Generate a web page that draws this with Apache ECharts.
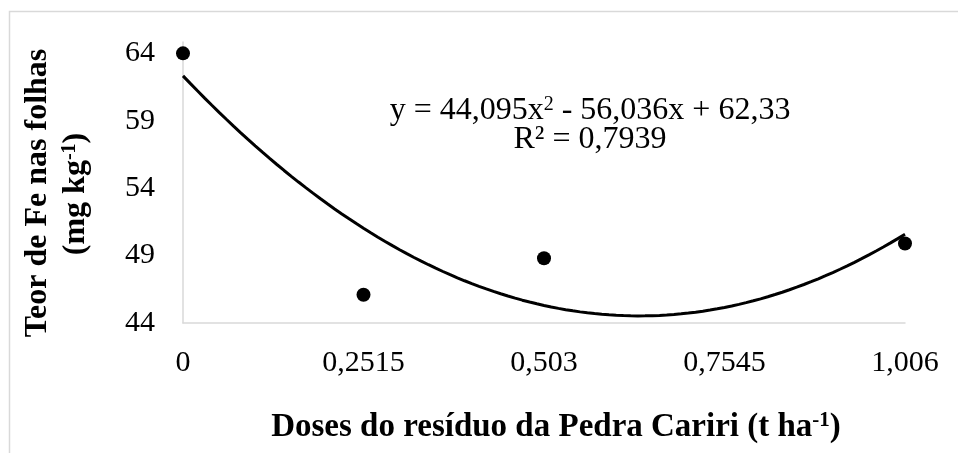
<!DOCTYPE html>
<html>
<head>
<meta charset="utf-8">
<script src="https://cdn.jsdelivr.net/npm/echarts@6/dist/echarts.min.js"></script>
<style>html,body{margin:0;padding:0;background:#fff}#c{width:958px;height:453px}</style>
</head>
<body>
<div id="c"></div>
<script>
// Data
var doses = [0, 0.2515, 0.503, 1.006];
var feValues = [64.0, 46.1, 48.8, 49.9];
var xTickLabels = ['0', '0,2515', '0,503', '0,7545', '1,006'];
var yTickValues = [44, 49, 54, 59, 64];
// Trendline coefficients as printed on the chart: y = a x^2 + b x + c
var trendCoef = [44.095, -56.036, 62.33];
var equationText = 'y = 44,095x{sup|2} - 56,036x + 62,33';
var r2Text = 'R² = 0,7939';

var xStep = 0.2515;
var trend = [];
for (var i = 0; i <= 100; i++) {
  var x = doses[doses.length - 1] * i / 100;
  trend.push([x, trendCoef[0] * x * x + trendCoef[1] * x + trendCoef[2]]);
}
var pts = doses.map(function (d, i) { return [d, feValues[i]]; });

var serif = '"Liberation Serif", "Times New Roman", serif';
var chart = echarts.init(document.getElementById('c'));
chart.setOption({
  animation: false,
  backgroundColor: '#fff',
  grid: { left: 183, right: 53, top: 42, bottom: 130, containLabel: false },
  xAxis: {
    type: 'value', min: 0, max: 1.006, interval: xStep,
    axisLine: { lineStyle: { color: '#d9d9d9', width: 1.5 } },
    axisTick: { show: false }, splitLine: { show: false },
    axisLabel: {
      color: '#000', fontFamily: serif, fontSize: 30, margin: 25,
      formatter: function (v) { return xTickLabels[Math.round(v / xStep)] || ''; }
    }
  },
  yAxis: {
    type: 'value', min: 44, max: 64.84, interval: 5,
    axisLine: { show: true, lineStyle: { color: '#d9d9d9', width: 1.5 } },
    axisTick: { show: false }, splitLine: { show: false },
    axisLabel: {
      color: '#000', fontFamily: serif, fontSize: 30, margin: 28, showMaxLabel: false,
      formatter: function (v) { return yTickValues.indexOf(Math.round(v)) >= 0 && Math.abs(v - Math.round(v)) < 1e-6 ? String(Math.round(v)) : ''; }
    }
  },
  series: [
    { type: 'line', data: trend, showSymbol: false, smooth: false, silent: true,
      lineStyle: { color: '#000', width: 3 }, z: 2 },
    { type: 'scatter', data: pts, symbol: 'circle', symbolSize: 14,
      itemStyle: { color: '#000', opacity: 1 }, z: 3 }
  ],
  graphic: [
    { type: 'rect', shape: { x: 9.5, y: 11.5, width: 1000, height: 1000 },
      style: { fill: 'none', stroke: '#d9d9d9', lineWidth: 1.5 }, z: -10, silent: true },
    { type: 'text', x: 590, y: 111, style: {
        text: equationText, font: '32px ' + serif, fill: '#000',
        textAlign: 'center', textVerticalAlign: 'middle',
        rich: { sup: { fontSize: 20, fontFamily: serif, fill: '#000', lineHeight: 32, padding: [0,0,12,0] } } } },
    { type: 'text', x: 590, y: 140, style: {
        text: r2Text, font: '32px ' + serif, fill: '#000',
        textAlign: 'center', textVerticalAlign: 'middle' } },
    { type: 'text', x: 556, y: 427, style: {
        text: '{b|Doses do resíduo da Pedra Cariri (t ha}{s|-1}{b|)}',
        textAlign: 'center', textVerticalAlign: 'middle',
        rich: {
          b: { fontSize: 33, fontWeight: 'bold', fontFamily: serif, fill: '#000', lineHeight: 36 },
          s: { fontSize: 21, fontWeight: 'bold', fontFamily: serif, fill: '#000', lineHeight: 36, padding: [0,0,13,0] }
        } } },
    { type: 'text', x: 38, y: 193, rotation: Math.PI / 2, style: {
        text: 'Teor de Fe nas folhas', font: 'bold 32px ' + serif, fill: '#000',
        textAlign: 'center', textVerticalAlign: 'middle' } },
    { type: 'text', x: 76, y: 194, rotation: Math.PI / 2, style: {
        text: '{b|(mg kg}{s|-1}{b|)}',
        textAlign: 'center', textVerticalAlign: 'middle',
        rich: {
          b: { fontSize: 32, fontWeight: 'bold', fontFamily: serif, fill: '#000', lineHeight: 36 },
          s: { fontSize: 20, fontWeight: 'bold', fontFamily: serif, fill: '#000', lineHeight: 36, padding: [0,0,13,0] }
        } } }
  ]
});
</script>
</body>
</html>
